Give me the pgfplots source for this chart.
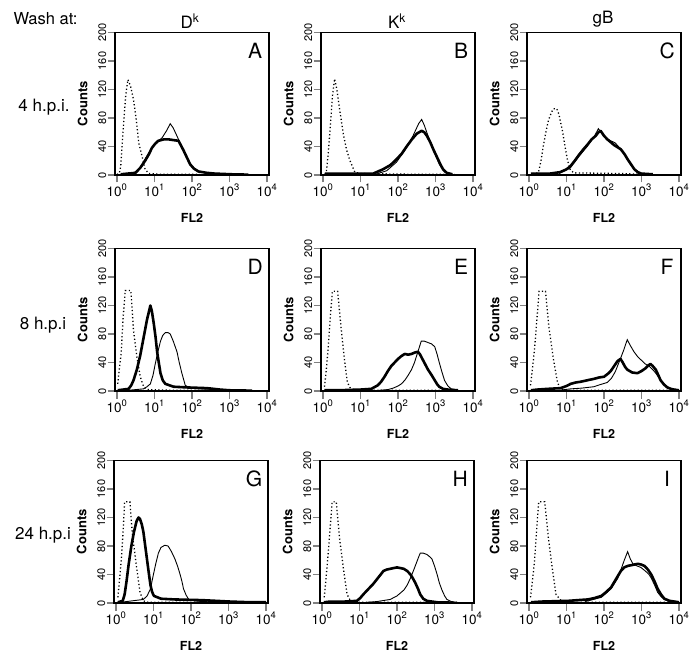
\documentclass[border=0pt]{standalone}
\usepackage{pgfplots}
\pgfplotsset{compat=1.18}
\usepackage{fontspec}
\setmainfont{TeX Gyre Heros}
\pgfplotsset{
  panel/.style={
    scale only axis, width=154pt, height=142.5pt,
    xmin=-0.053, xmax=4.053, ymin=0, ymax=200,
    anchor=south west,
    axis line style={line width=1.5pt},
    tick align=outside, xtick pos=bottom, ytick pos=left,
    major tick length=7.5pt,
    xtick={0,1,2,3,4},
    xticklabels={10\textsuperscript{0},10\textsuperscript{1},10\textsuperscript{2},10\textsuperscript{3},10\textsuperscript{4}},
    ytick={0,40,80,120,160,200},
    xtick style={line width=1.3pt},
    ytick style={line width=1.1pt},
    /pgf/number format/assume math mode=true,
    xticklabel style={font=\fontsize{13.5}{14}\selectfont, inner sep=1.5pt},
    yticklabel style={rotate=90, anchor=south, font=\fontsize{11}{11}\selectfont, inner sep=1pt},
    xlabel={\textbf{FL2}}, ylabel={\textbf{Counts}},
    xlabel style={font=\fontsize{12.5}{12.5}\selectfont, at={(axis description cs:0.5,-0.30)}, anchor=center},
    ylabel style={font=\fontsize{13}{13}\selectfont, at={(axis description cs:-0.21,0.5)}, anchor=center, rotate=0},
    clip=true,
  },
  dotc/.style={black, line width=1.3pt, dash pattern=on 1.2pt off 2.4pt, no markers},
  thinc/.style={black, line width=0.9pt, no markers},
  thickc/.style={black, line width=2.6pt, no markers, line join=round},
}
\newcommand{\plabel}[1]{\node[font=\fontsize{21}{21}\selectfont] at (rel axis cs:0.91,0.87) {#1};}
\begin{document}
\begin{tikzpicture}[x=1pt,y=1pt]
\useasboundingbox (0,0) rectangle (699,662);
% ---------- Row 1 ----------
\begin{axis}[panel, at={(115pt,487pt)}]
\addplot[dotc] coordinates {(0.0,1) (0.06,2) (0.1,12) (0.16,59) (0.23,110) (0.29,134) (0.36,125) (0.44,106) (0.52,75) (0.58,45) (0.67,26) (0.75,8) (0.85,2) (1.2,1) (2.2,1)};
\addplot[thinc] coordinates {(0.1,1) (0.4,2) (0.55,6) (0.67,15) (0.8,27) (0.93,38) (1.06,46) (1.2,52) (1.32,62) (1.42,72) (1.5,66) (1.64,50) (1.74,38) (1.82,28) (1.92,18) (2.0,12) (2.17,5) (2.5,2) (3.0,1) (3.5,0.5)};
\addplot[thickc] coordinates {(0.1,1) (0.49,3) (0.62,10) (0.75,20) (0.86,30) (0.93,38) (1.02,44) (1.1,48) (1.25,50) (1.38,50) (1.5,49) (1.64,48) (1.7,42) (1.77,35) (1.86,25) (1.95,15) (2.05,9) (2.17,5) (2.4,3) (2.6,2) (3.05,1) (3.5,0.5)};
\plabel{A}
\end{axis}
\begin{axis}[panel, at={(321pt,487pt)}]
\addplot[dotc] coordinates {(0.05,1) (0.09,4) (0.14,30) (0.18,58) (0.25,110) (0.31,135) (0.37,120) (0.45,90) (0.54,58) (0.63,35) (0.72,20) (0.85,4) (1.0,2) (2.5,1) (3.5,1)};
\addplot[thinc] coordinates {(1.4,1) (1.7,6) (1.96,18) (2.2,36) (2.4,55) (2.55,72) (2.63,78) (2.7,70) (2.8,55) (2.95,35) (3.1,15) (3.25,4) (3.4,1)};
\addplot[thickc] coordinates {(0.05,2) (0.5,2) (1.0,2) (1.34,2) (1.6,8) (1.8,14) (1.96,22) (2.1,30) (2.23,40) (2.37,50) (2.5,58) (2.63,62) (2.7,60) (2.77,55) (2.86,46) (2.95,35) (3.04,25) (3.13,15) (3.2,8) (3.3,3) (3.45,1)};
\plabel{B}
\end{axis}
\begin{axis}[panel, at={(527pt,487pt)}]
\addplot[dotc] coordinates {(0.1,2) (0.25,3) (0.32,20) (0.38,40) (0.45,60) (0.52,77) (0.6,88) (0.65,93) (0.74,93) (0.8,85) (0.83,77) (0.9,60) (0.96,40) (1.03,20) (1.1,7) (1.2,3) (2.5,2) (3,1)};
\addplot[thinc] coordinates {(0.8,2) (1.1,10) (1.33,26) (1.55,40) (1.75,55) (1.85,65) (1.95,58) (2.1,50) (2.3,45) (2.45,36) (2.63,22) (2.81,8) (3.0,2) (3.3,1)};
\addplot[thickc] coordinates {(0.05,2) (0.56,2) (0.83,4) (1.0,8) (1.1,12) (1.22,20) (1.33,28) (1.45,36) (1.55,42) (1.67,50) (1.78,55) (1.85,60) (1.91,62) (2.0,55) (2.09,50) (2.18,46) (2.27,42) (2.36,39) (2.45,36) (2.55,29) (2.63,22) (2.72,15) (2.81,8) (2.9,4) (2.99,2) (3.3,1)};
\plabel{C}
\end{axis}
% ---------- Row 2 ----------
\begin{axis}[panel, at={(115pt,271pt)}]
\addplot[dotc] coordinates {(0.02,10) (0.06,30) (0.11,52) (0.16,100) (0.22,141) (0.3,141) (0.37,141) (0.44,85) (0.53,48) (0.62,20) (0.71,6) (0.8,2) (1.5,1) (3.5,1)};
\addplot[thinc] coordinates {(0.3,1) (0.71,3) (0.8,6) (0.89,10) (0.96,22) (1.02,38) (1.09,55) (1.16,70) (1.22,78) (1.29,82) (1.36,82) (1.42,80) (1.5,70) (1.6,55) (1.66,40) (1.73,25) (1.82,8) (1.95,4) (2.2,3) (2.65,2) (3.0,1)};
\addplot[thickc] coordinates {(0.02,1) (0.31,3) (0.38,8) (0.44,15) (0.53,30) (0.62,50) (0.71,75) (0.8,100) (0.89,120) (0.93,112) (0.98,95) (1.03,75) (1.07,55) (1.12,38) (1.16,25) (1.22,15) (1.29,10) (1.51,6) (1.87,5) (2.4,4) (2.75,2) (3.0,1) (3.6,0.5)};
\plabel{D}
\end{axis}
\begin{axis}[panel, at={(321pt,271pt)}]
\addplot[dotc] coordinates {(0.04,6) (0.08,25) (0.13,55) (0.19,100) (0.25,140) (0.32,140) (0.39,140) (0.48,90) (0.57,45) (0.65,12) (0.74,3) (0.9,1) (3.5,1)};
\addplot[thinc] coordinates {(1.5,1) (1.73,2) (1.87,4) (2.0,7) (2.09,10) (2.18,15) (2.27,22) (2.36,30) (2.44,40) (2.5,50) (2.56,60) (2.62,70) (2.7,70) (2.8,68) (2.9,66) (2.98,62) (3.04,52) (3.1,40) (3.17,27) (3.24,15) (3.33,7) (3.42,3) (3.6,1)};
\addplot[thickc] coordinates {(0.04,1) (0.39,1) (1.0,2) (1.29,3) (1.46,8) (1.55,13) (1.64,20) (1.73,28) (1.82,35) (1.91,40) (2.0,45) (2.09,49) (2.18,52) (2.27,51) (2.36,52) (2.45,54) (2.53,55) (2.58,52) (2.62,48) (2.7,40) (2.8,30) (2.9,22) (2.98,15) (3.05,9) (3.1,6) (3.2,3) (3.33,2) (3.6,1)};
\plabel{E}
\end{axis}
\begin{axis}[panel, at={(527pt,271pt)}]
\addplot[dotc] coordinates {(0.04,8) (0.09,30) (0.15,60) (0.21,100) (0.27,140) (0.35,140) (0.44,140) (0.53,90) (0.65,45) (0.76,12) (0.84,3) (1.0,1) (3.8,1)};
\addplot[thinc] coordinates {(0.8,1) (1.11,3) (1.4,4) (1.73,6) (1.9,9) (2.09,12) (2.2,18) (2.3,27) (2.36,35) (2.45,47) (2.53,58) (2.58,66) (2.62,72) (2.7,64) (2.8,55) (2.9,48) (3.02,42) (3.1,38) (3.2,35) (3.3,30) (3.38,25) (3.5,16) (3.6,10) (3.7,5) (3.78,3) (3.9,1)};
\addplot[thickc] coordinates {(0.05,1) (0.22,2) (0.5,3) (0.84,4) (1.0,7) (1.11,10) (1.25,12) (1.38,13) (1.55,15) (1.73,17) (1.87,19) (2.0,20) (2.1,24) (2.18,28) (2.27,35) (2.36,42) (2.44,45) (2.5,40) (2.56,34) (2.62,30) (2.75,26) (2.89,25) (3.0,28) (3.11,32) (3.18,36) (3.24,38) (3.3,35) (3.38,30) (3.45,22) (3.51,15) (3.6,9) (3.69,5) (3.78,3) (3.87,2) (4.0,1)};
\plabel{F}
\end{axis}
% ---------- Row 3 ----------
\begin{axis}[panel, at={(114pt,59pt)}]
\addplot[dotc] coordinates {(0.05,8) (0.09,30) (0.14,60) (0.19,100) (0.23,142) (0.3,142) (0.37,142) (0.44,95) (0.55,50) (0.64,15) (0.73,3) (0.85,1) (3.8,1)};
\addplot[thinc] coordinates {(0.1,1) (0.28,2) (0.73,5) (0.83,10) (0.92,20) (0.99,38) (1.06,55) (1.13,70) (1.2,78) (1.3,81) (1.39,80) (1.48,72) (1.57,62) (1.64,52) (1.71,40) (1.76,30) (1.8,20) (1.87,11) (1.94,5) (2.1,3) (2.3,2) (3.0,1)};
\addplot[thickc] coordinates {(0.05,1) (0.18,3) (0.23,12) (0.28,30) (0.34,55) (0.41,80) (0.48,100) (0.55,115) (0.6,120) (0.64,118) (0.69,110) (0.73,100) (0.78,80) (0.83,60) (0.88,40) (0.92,25) (0.96,16) (1.01,10) (1.2,6) (1.56,5) (2.3,4) (3.05,2) (3.6,1) (4.0,1)};
\plabel{G}
\end{axis}
\begin{axis}[panel, at={(320pt,59pt)}]
\addplot[dotc] coordinates {(0.06,8) (0.1,30) (0.15,60) (0.21,100) (0.27,142) (0.33,142) (0.38,142) (0.47,90) (0.58,45) (0.67,12) (0.76,3) (0.9,1) (3.6,1)};
\addplot[thinc] coordinates {(1.2,1) (1.46,2) (1.82,5) (2.0,10) (2.18,18) (2.27,25) (2.36,35) (2.45,47) (2.53,58) (2.58,65) (2.62,70) (2.7,70) (2.8,68) (2.87,65) (2.93,62) (3.0,52) (3.07,40) (3.13,28) (3.2,18) (3.27,10) (3.33,5) (3.45,2) (3.6,1)};
\addplot[thickc] coordinates {(0.05,1) (0.22,2) (0.6,2) (0.93,3) (1.02,7) (1.1,12) (1.19,17) (1.28,22) (1.37,27) (1.46,33) (1.55,39) (1.64,45) (1.73,47) (1.82,48) (1.91,49) (2.0,50) (2.09,49) (2.18,48) (2.27,45) (2.36,40) (2.43,34) (2.49,28) (2.56,20) (2.62,12) (2.7,6) (2.8,3) (3.07,1) (3.5,0.5)};
\plabel{H}
\end{axis}
\begin{axis}[panel, at={(527pt,59pt)}]
\addplot[dotc] coordinates {(0.04,8) (0.09,30) (0.15,60) (0.2,100) (0.26,142) (0.34,142) (0.42,142) (0.52,90) (0.63,45) (0.72,12) (0.86,3) (1.0,1) (3.9,1)};
\addplot[thinc] coordinates {(1.5,2) (1.93,8) (2.19,20) (2.37,35) (2.46,48) (2.54,60) (2.6,68) (2.63,72) (2.7,62) (2.77,55) (2.88,52) (2.98,50) (3.1,45) (3.2,40) (3.26,35) (3.35,25) (3.43,15) (3.52,9) (3.61,5) (3.75,2) (3.9,1)};
\addplot[thickc] coordinates {(0.05,1) (0.33,2) (1.04,3) (1.3,4) (1.57,5) (1.75,7) (1.93,10) (2.05,15) (2.19,22) (2.28,30) (2.37,38) (2.45,45) (2.54,50) (2.63,52) (2.72,53) (2.81,54) (2.9,55) (2.99,54) (3.08,52) (3.17,47) (3.26,40) (3.35,30) (3.43,20) (3.52,12) (3.61,6) (3.75,3) (3.88,2) (4.0,1)};
\plabel{I}
\end{axis}
% ---------- outer labels ----------
\node[font=\fontsize{16.5}{16.5}\selectfont, anchor=west] at (10,643) {Wash at:};
\node[font=\fontsize{17}{17}\selectfont] at (190,641) {D\textsuperscript{k}};
\node[font=\fontsize{17}{17}\selectfont] at (397,641) {K\textsuperscript{k}};
\node[font=\fontsize{17}{17}\selectfont] at (603,643) {gB};
\node[font=\fontsize{17}{17}\selectfont] at (44,555) {4 h.p.i.};
\node[font=\fontsize{17}{17}\selectfont] at (43,337) {8 h.p.i};
\node[font=\fontsize{17}{17}\selectfont] at (43,127) {24 h.p.i};
\end{tikzpicture}
\end{document}
